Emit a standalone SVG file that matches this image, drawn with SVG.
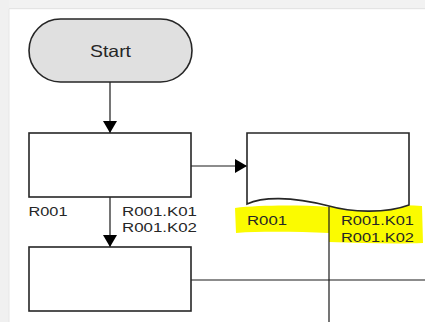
<svg xmlns="http://www.w3.org/2000/svg" width="425" height="322" viewBox="0 0 425 322">
  <defs>
    <style>
      .shape { fill: #ffffff; stroke: #262626; stroke-width: 1.6; }
      .line { fill: none; stroke: #1a1a1a; stroke-width: 1.2; }
      .lbl { font-family: "Liberation Sans", Arial, sans-serif; font-size: 12.5px; fill: #262626; }
    </style>
    <marker id="arr" markerWidth="14" markerHeight="14" refX="12" refY="7" orient="auto" markerUnits="userSpaceOnUse">
      <path d="M0,0 L12,7 L0,14 Z" fill="#000"/>
    </marker>
  </defs>
  <rect x="0" y="0" width="425" height="322" fill="#ffffff"/>
  <rect x="0" y="0" width="425" height="9" fill="#f2f2f2"/>
  <rect x="0" y="8" width="425" height="1.2" fill="#e4e4e4"/>
  <rect x="0" y="0" width="9" height="322" fill="#f0f0f0"/>
  <rect x="8.5" y="9" width="1" height="313" fill="#e6e6e6"/>

  <path d="M235,208 C260,205 300,205 329,207 C360,205 395,204 422,206 L423,243 C395,244 360,243 329,242 L329,233 C300,232 265,231 236,233 Z" fill="#fbfb00"/>

  <g id="connectors">
    <line class="line" x1="110" y1="82" x2="110" y2="133" marker-end="url(#arr)"/>
    <line class="line" x1="110" y1="197" x2="110" y2="247" marker-end="url(#arr)"/>
    <line class="line" x1="191" y1="166" x2="247" y2="166" marker-end="url(#arr)"/>
    <line class="line" x1="329" y1="206.5" x2="329" y2="322"/>
    <line class="line" x1="191" y1="280" x2="425" y2="280"/>
  </g>

  <g id="start">
    <rect x="29" y="19" width="163" height="63" rx="31.5" ry="31.5" fill="#e0e0e0" stroke="#262626" stroke-width="1.6"/>
    <text x="110.5" y="57.3" text-anchor="middle" font-family="Liberation Sans, Arial, sans-serif" font-size="16.5" fill="#262626" textLength="41" lengthAdjust="spacingAndGlyphs">Start</text>
  </g>

  <g id="box1">
    <rect class="shape" x="29" y="133" width="162" height="64"/>
  </g>
  <g id="box1-labels">
    <text class="lbl" x="28.5" y="216" textLength="39" lengthAdjust="spacingAndGlyphs">R001</text>
    <text class="lbl" x="122" y="216" textLength="75" lengthAdjust="spacingAndGlyphs">R001.K01</text>
    <text class="lbl" x="122" y="231.7" textLength="75" lengthAdjust="spacingAndGlyphs">R001.K02</text>
  </g>

  <g id="box2">
    <rect class="shape" x="29" y="247" width="162" height="64"/>
  </g>

  <g id="document">
    <path class="shape" d="M247,133 H409 V205 C385,214 350,212 329,206 C290,196 262,197 247,204 Z"/>
  </g>
  <g id="document-labels">
    <text class="lbl" x="247" y="225" textLength="40" lengthAdjust="spacingAndGlyphs">R001</text>
    <text class="lbl" x="341" y="225" textLength="73" lengthAdjust="spacingAndGlyphs">R001.K01</text>
    <text class="lbl" x="341" y="241.7" textLength="73" lengthAdjust="spacingAndGlyphs">R001.K02</text>
  </g>
</svg>
